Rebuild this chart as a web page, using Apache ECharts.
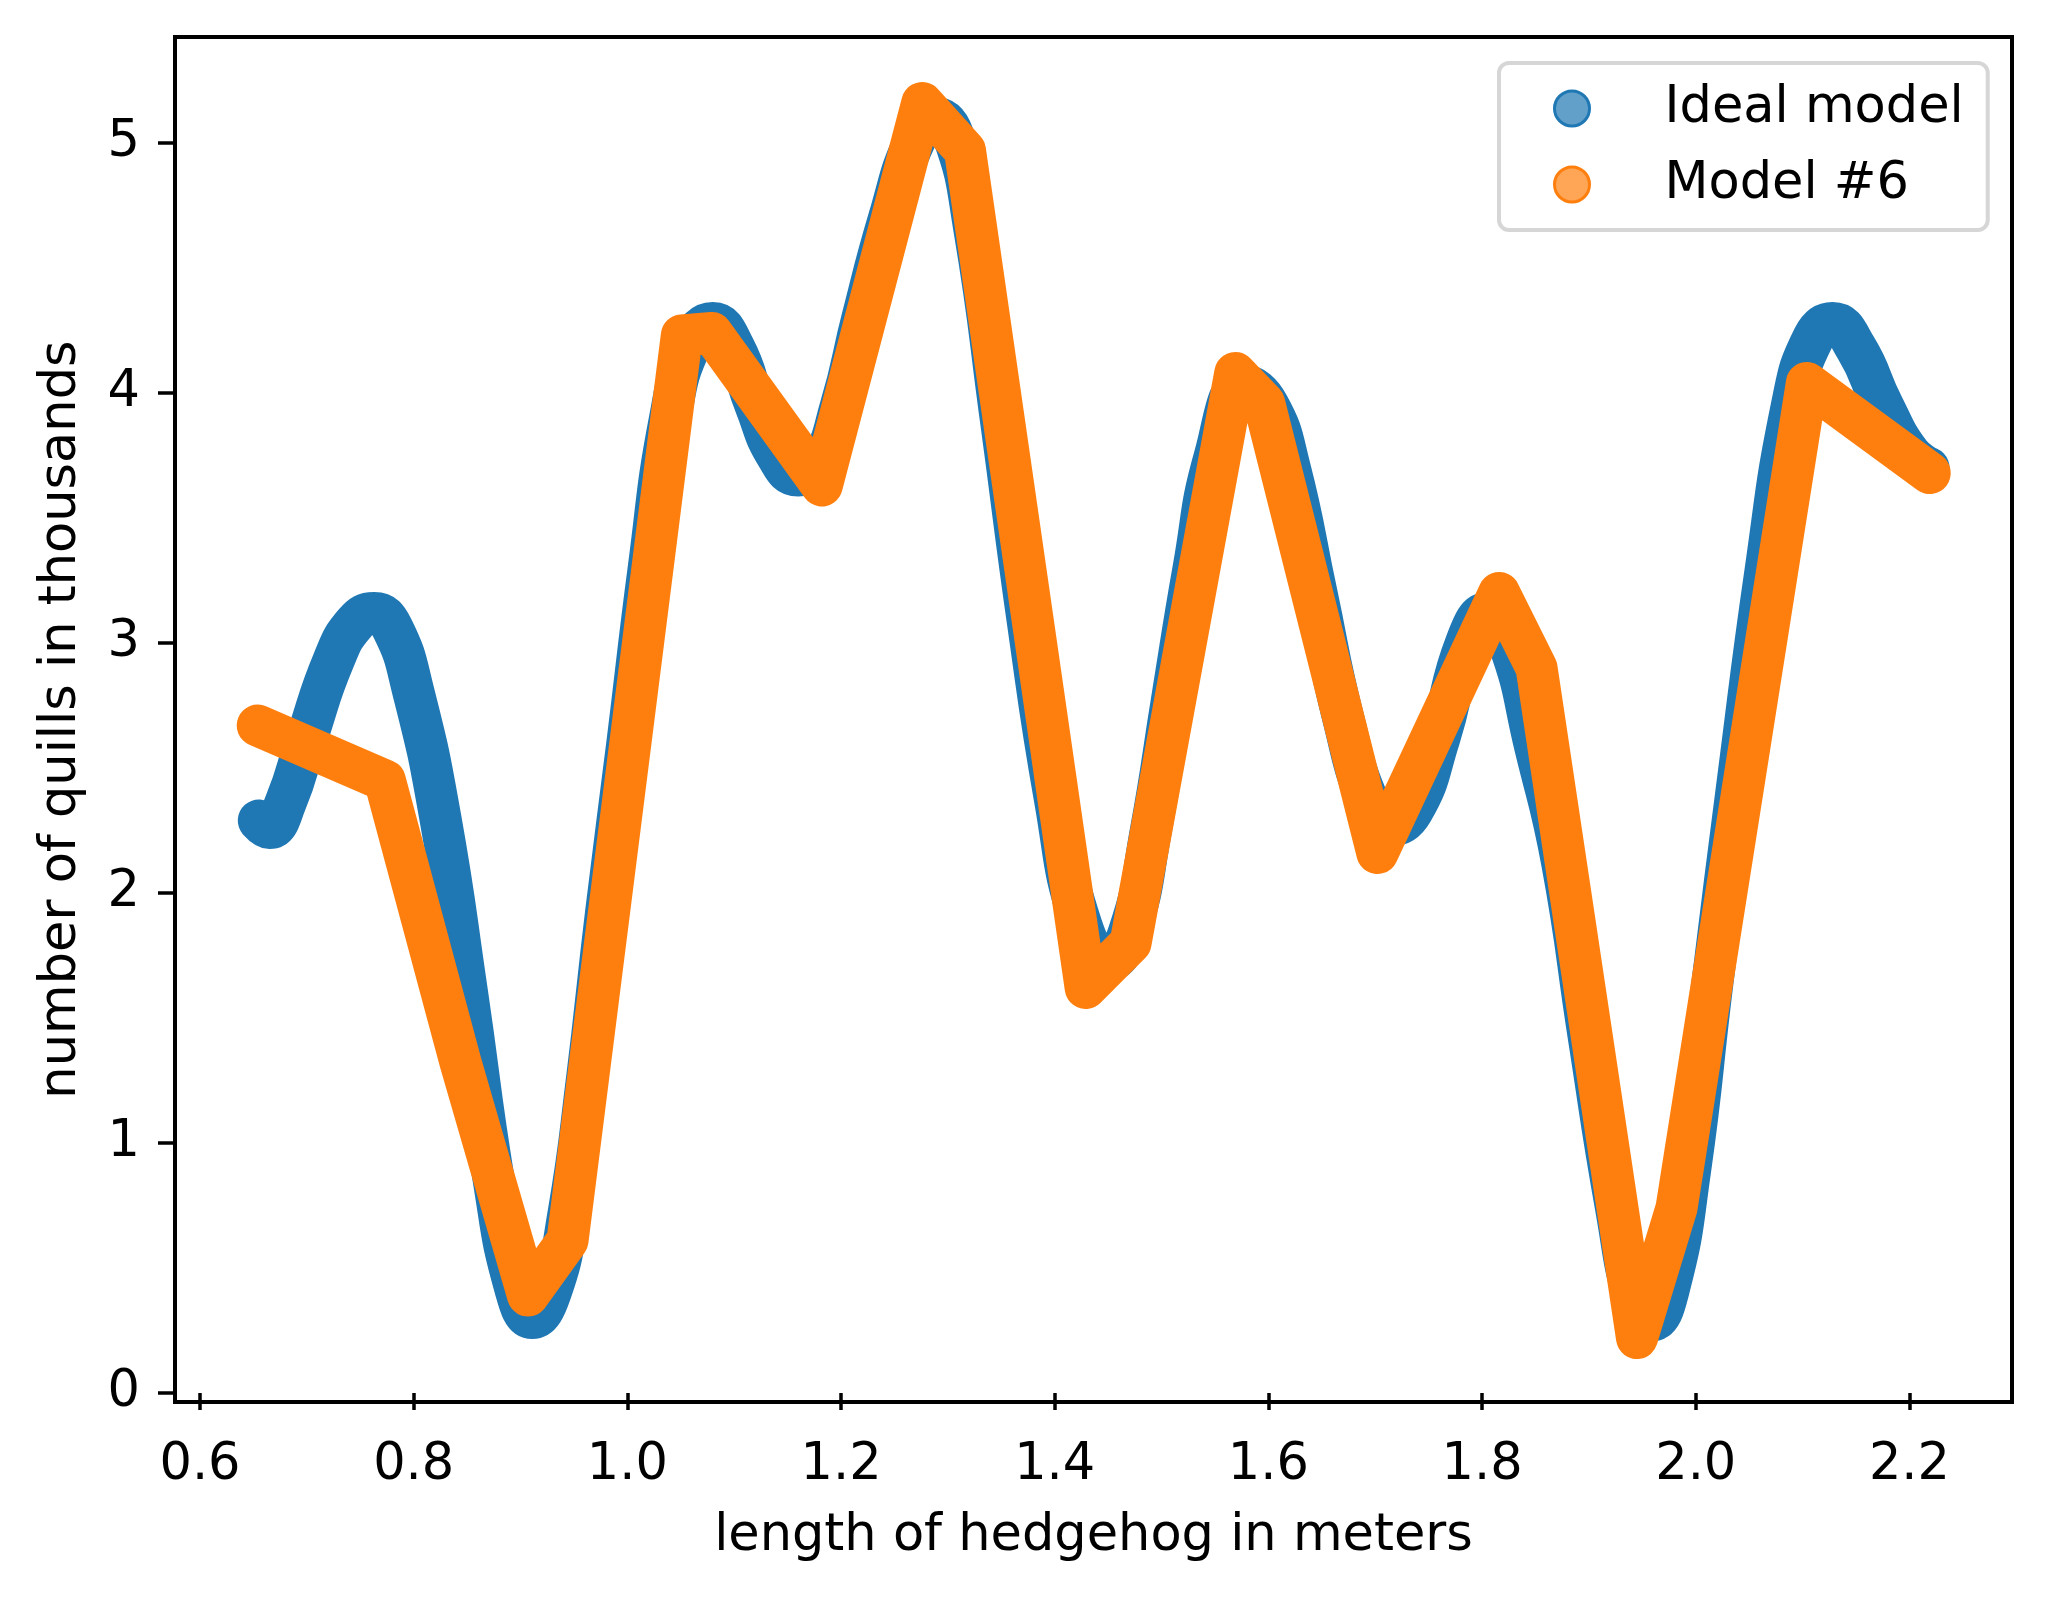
<!DOCTYPE html>
<html>
<head>
<meta charset="utf-8">
<script src="https://cdn.jsdelivr.net/npm/echarts@6/dist/echarts.min.js"></script>
<style>
html,body{margin:0;padding:0;background:#fff;}
#chart{width:2048px;height:1598px;}
</style>
</head>
<body>
<div id="chart"></div>
<script>
// ---- data ----
const idealX = [0.655,0.665,0.680,0.700,0.725,0.745,0.763,0.780,0.800,0.825,0.850,0.875,0.895,0.911,0.928,0.945,0.962,0.980,1.000,1.020,1.040,1.060,1.080,1.100,1.120,1.140,1.160,1.180,1.200,1.220,1.245,1.270,1.288,1.305,1.325,1.350,1.375,1.400,1.425,1.450,1.470,1.490,1.510,1.530,1.550,1.578,1.600,1.620,1.645,1.670,1.695,1.713,1.735,1.760,1.785,1.805,1.825,1.850,1.875,1.900,1.925,1.945,1.958,1.975,1.995,2.015,2.040,2.065,2.090,2.110,2.128,2.150,2.175,2.200,2.218];
const idealY = [2.29,2.26,2.36,2.62,2.93,3.08,3.12,3.06,2.80,2.30,1.60,0.85,0.42,0.30,0.40,0.72,1.25,1.92,2.60,3.30,3.90,4.20,4.28,4.18,3.95,3.75,3.67,3.72,3.95,4.30,4.70,5.02,5.10,5.03,4.65,3.88,3.08,2.38,1.87,1.73,1.85,2.25,2.78,3.30,3.75,4.03,3.95,3.70,3.20,2.70,2.35,2.27,2.33,2.62,3.00,3.12,3.00,2.58,2.12,1.42,0.75,0.34,0.29,0.42,0.90,1.62,2.47,3.28,3.95,4.22,4.28,4.18,3.95,3.76,3.70];
const model6X = [0.654,0.773,0.844,0.907,0.944,1.051,1.079,1.182,1.276,1.316,1.429,1.471,1.569,1.596,1.702,1.816,1.851,1.945,1.982,2.104,2.219];
const model6Y = [2.67,2.45,1.32,0.39,0.61,4.23,4.24,3.63,5.16,4.97,1.62,1.80,4.08,3.96,2.16,3.20,2.90,0.22,0.74,4.04,3.68];
const seriesNames = ['Ideal model','Model #6'];
const xTicks = [0.6,0.8,1.0,1.2,1.4,1.6,1.8,2.0,2.2];
const yTicks = [0,1,2,3,4,5];
const xRange = [0.5766, 2.296];
const yRange = [-0.036, 5.424];

const FONT = 'DejaVu Sans';
const BLUE = '#1f77b4', ORANGE = '#ff7f0e';
const zip = (xs, ys) => xs.map((x, i) => [x, ys[i]]);

const chart = echarts.init(document.getElementById('chart'), null, {renderer: 'canvas'});
chart.setOption({
  animation: false,
  backgroundColor: '#fff',
  grid: {left: 175, right: 36, top: 37, bottom: 196, show: true, borderColor: '#000', borderWidth: 4, backgroundColor: 'transparent'},
  legend: {
    orient: 'vertical', left: 1499, top: 63,
    padding: [20, 24, 20, 54],
    itemGap: 25, itemWidth: 35, itemHeight: 35,
    backgroundColor: '#fff', borderColor: '#d6d6d6', borderWidth: 4, borderRadius: 10,
    textStyle: {fontFamily: FONT, fontSize: 51, color: '#000', padding: [0, 0, 0, 70]},
    data: [
      {name: seriesNames[0], icon: 'circle', itemStyle: {color: 'rgba(31,119,180,0.7)', borderColor: BLUE, borderWidth: 3}},
      {name: seriesNames[1], icon: 'circle', itemStyle: {color: 'rgba(255,127,14,0.7)', borderColor: ORANGE, borderWidth: 3}}
    ]
  },
  xAxis: {
    type: 'value', min: xRange[0], max: xRange[1],
    name: 'length of hedgehog in meters', nameLocation: 'middle', nameGap: 109,
    nameTextStyle: {fontFamily: FONT, fontSize: 51, color: '#000'},
    axisLine: {show: false},
    axisTick: {show: true, inside: false, length: 17, lineStyle: {color: '#000', width: 3.5}, customValues: xTicks},
    axisLabel: {show: true, margin: 38, fontFamily: FONT, fontSize: 51, color: '#000', customValues: xTicks, formatter: v => Number(v).toFixed(1)},
    splitLine: {show: false}
  },
  yAxis: {
    type: 'value', min: yRange[0], max: yRange[1],
    name: 'number of quills in thousands', nameLocation: 'middle', nameGap: 88,
    nameTextStyle: {fontFamily: FONT, fontSize: 51, color: '#000'},
    axisLine: {show: false},
    axisTick: {show: true, inside: false, length: 17, lineStyle: {color: '#000', width: 3.5}, customValues: yTicks},
    axisLabel: {show: true, margin: 35, fontFamily: FONT, fontSize: 51, color: '#000', customValues: yTicks, formatter: v => String(Math.round(v))},
    splitLine: {show: false}
  },
  series: [
    {
      name: seriesNames[0], type: 'line', data: zip(idealX, idealY),
      smooth: 0.5, showSymbol: false, symbol: 'none', z: 2,
      itemStyle: {color: BLUE},
      lineStyle: {color: BLUE, width: 42, cap: 'round', join: 'round'}
    },
    {
      name: seriesNames[1], type: 'line', data: zip(model6X, model6Y),
      smooth: false, showSymbol: false, symbol: 'none', z: 3,
      itemStyle: {color: ORANGE},
      lineStyle: {color: ORANGE, width: 42, cap: 'round', join: 'round'}
    }
  ]
});
</script>
</body>
</html>
